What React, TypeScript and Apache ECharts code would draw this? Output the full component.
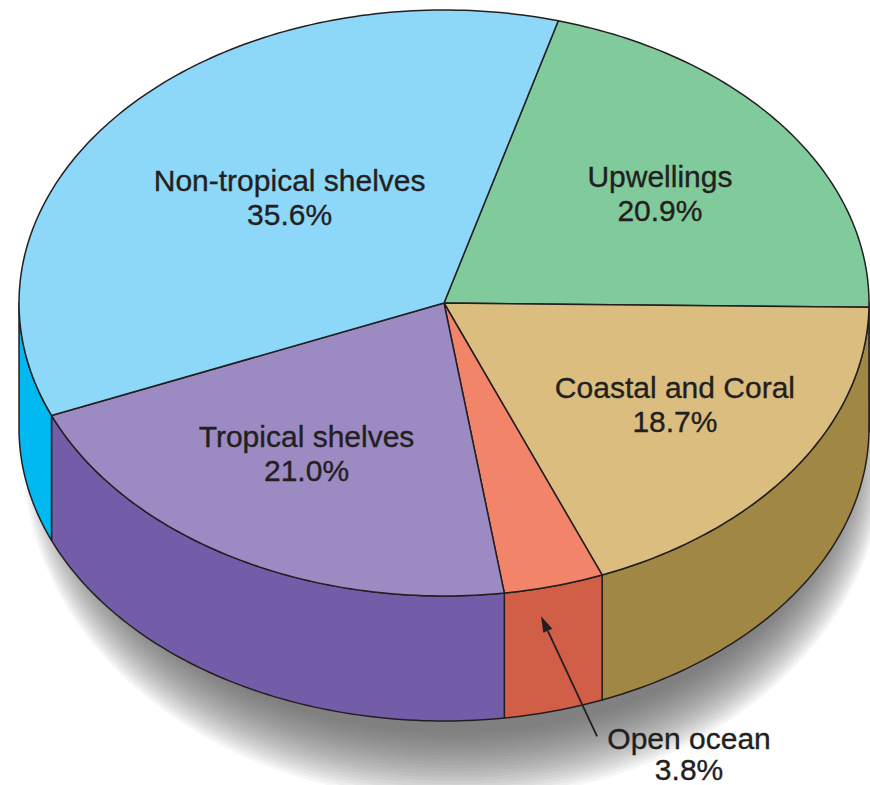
import React, { useEffect, useRef } from "react";
import * as echarts from "echarts";

// Share of global marine primary production by ecosystem (%)
const categories = [
  "Upwellings",
  "Coastal and Coral",
  "Open ocean",
  "Tropical shelves",
  "Non-tropical shelves",
];
const shares = [20.9, 18.7, 3.8, 21.0, 35.6];

const topColors = ["#80CA9C", "#DBBE7F", "#F2846A", "#9C8AC2", "#8DD8F8"];
const sideColors = ["#4E9E6C", "#A08844", "#D15F47", "#735DA8", "#00B9F0"];

// Disc geometry (pixels / degrees of the ellipse parameter)
const CX = 444;
const CY = 303;
const RX = 425;
const RY = 293;
const DEPTH = 125;
const START = -74.4;
const STROKE = "#231f20";
const LINE_W = 1.5;
const FONT = '"Liberation Sans", Arial, Helvetica, sans-serif';
const FONT_SIZE = 30;

// Label placement inside each slice: radius fraction and angle nudge
const labelRadius = [0.631, 0.645, 0, 0.608, 0.512];
const labelNudge = [0.4, -1.9, 0, 2.5, 3.3];

const total = shares.reduce((s, v) => s + v, 0);
const cumulative = shares.map((_, i) => shares.slice(0, i).reduce((s, v) => s + v, 0));

function ept(t: number, dy = 0): number[] {
  const r = (t * Math.PI) / 180;
  return [CX + RX * Math.cos(r), CY + RY * Math.sin(r) + dy];
}

function arc(a0: number, a1: number, dy = 0): number[][] {
  const n = Math.max(2, Math.ceil(Math.abs(a1 - a0)));
  const pts: number[][] = [];
  for (let i = 0; i <= n; i++) pts.push(ept(a0 + ((a1 - a0) * i) / n, dy));
  return pts;
}

function labelStyle(text: string, lineHeight: number) {
  return {
    text,
    fill: STROKE,
    stroke: STROKE,
    lineWidth: 0.35,
    fontSize: FONT_SIZE,
    fontFamily: FONT,
    lineHeight,
    align: "center",
    verticalAlign: "middle",
  };
}

function renderSlice(params: any, api: any) {
  const i = params.dataIndex;
  const v = api.value(1);
  const a0 = START + (360 * cumulative[i]) / total;
  const a1 = a0 + (360 * v) / total;
  const children: any[] = [];

  // front wall, only where the rim faces the viewer (0..180 deg)
  for (const k of [-360, 0, 360]) {
    const lo = Math.max(a0, k);
    const hi = Math.min(a1, k + 180);
    if (hi - lo > 0.01) {
      children.push({
        type: "polygon",
        shape: { points: arc(lo, hi).concat(arc(hi, lo, DEPTH)) },
        style: { fill: sideColors[i], stroke: STROKE, lineWidth: LINE_W, lineJoin: "round" },
      });
    }
  }

  // top face
  children.push({
    type: "polygon",
    shape: { points: [[CX, CY]].concat(arc(a0, a1)) },
    style: { fill: topColors[i], stroke: STROKE, lineWidth: LINE_W, lineJoin: "round" },
  });

  const text = `${categories[i]}\n${v.toFixed(1)}%`;
  const mid = (a0 + a1) / 2;

  if (v >= 5) {
    const r = ((mid + labelNudge[i]) * Math.PI) / 180;
    children.push({
      type: "text",
      x: CX + RX * labelRadius[i] * Math.cos(r),
      y: CY + RY * labelRadius[i] * Math.sin(r),
      style: labelStyle(text, 34),
    });
  } else {
    // callout below the disc, arrow pointing at the slice's wall
    const tip = ept(mid + 1.8, 28);
    const tail = [tip[0] + 56, tip[1] + 120];
    const dx = tip[0] - tail[0];
    const dy = tip[1] - tail[1];
    const len = Math.hypot(dx, dy);
    const ux = dx / len;
    const uy = dy / len;
    const headLen = 16;
    const headW = 5;
    const base = [tip[0] - ux * headLen, tip[1] - uy * headLen];
    children.push({
      type: "line",
      shape: { x1: tail[0], y1: tail[1], x2: base[0], y2: base[1] },
      style: { stroke: STROKE, lineWidth: 1.8 },
    });
    children.push({
      type: "polygon",
      shape: {
        points: [
          tip,
          [base[0] - uy * headW, base[1] + ux * headW],
          [base[0] + uy * headW, base[1] - ux * headW],
        ],
      },
      style: { fill: STROKE },
    });
    children.push({
      type: "text",
      x: tip[0] + 148,
      y: tip[1] + 138,
      style: labelStyle(text, 31),
    });
  }

  return { type: "group", children };
}

// Soft ground shadow: stacked translucent ellipses that widen and fade outward
function shadowLayers(): any[] {
  const layers: any[] = [];
  const n = 22;
  for (let j = n - 1; j >= 0; j--) {
    const d = j * 3.2;
    layers.push({
      type: "ellipse",
      z: 0,
      silent: true,
      shape: {
        cx: CX + 10,
        cy: CY + DEPTH + 28,
        rx: RX - 38 + 0.65 * d,
        ry: RY - 16 + d,
      },
      style: { fill: "rgba(70, 78, 80, 0.052)" },
    });
  }
  return layers;
}

export default function App() {
  const ref = useRef<HTMLDivElement>(null);

  useEffect(() => {
    if (!ref.current) return;
    const chart = echarts.init(ref.current, undefined, { renderer: "svg" });
    chart.setOption({
      animation: false,
      backgroundColor: "#ffffff",
      graphic: shadowLayers(),
      series: [
        {
          type: "custom",
          coordinateSystem: "none",
          z: 2,
          renderItem: renderSlice,
          data: shares.map((v, i) => ({ name: categories[i], value: [i, v] })),
        },
      ],
    });
    return () => chart.dispose();
  }, []);

  return (
    <div
      ref={ref}
      style={{ position: "fixed", left: 0, top: 0, width: 870, height: 785 }}
    />
  );
}
